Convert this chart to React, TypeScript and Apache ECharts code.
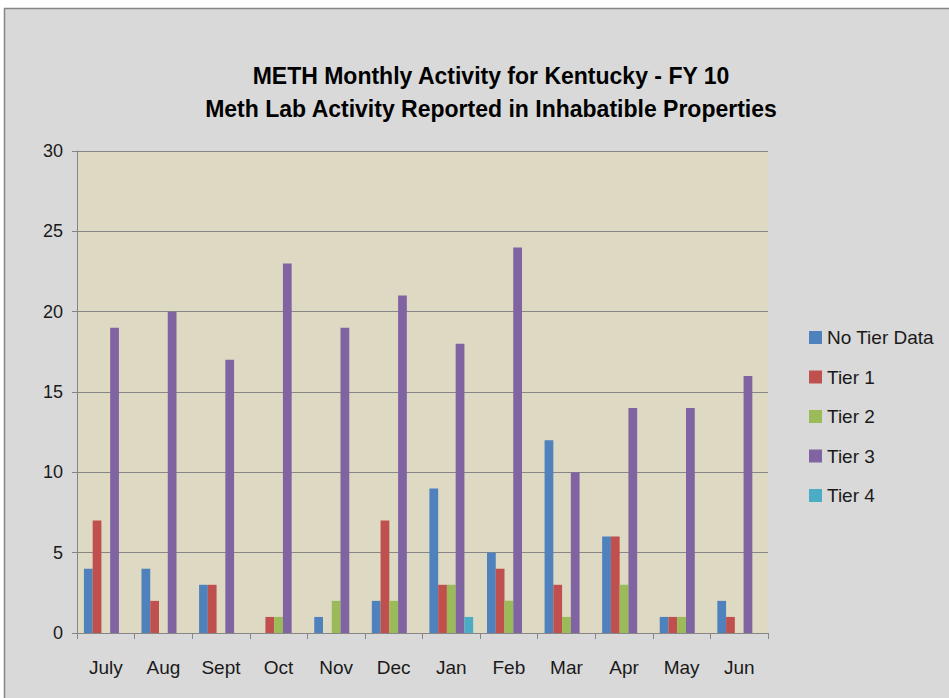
import React, { useEffect, useRef } from "react";
import * as echarts from "echarts";

const categories = ["July", "Aug", "Sept", "Oct", "Nov", "Dec", "Jan", "Feb", "Mar", "Apr", "May", "Jun"];
const noTierData = [4, 4, 3, 0, 1, 2, 9, 5, 12, 6, 1, 2];
const tier1 = [7, 2, 3, 1, 0, 7, 3, 4, 3, 6, 1, 1];
const tier2 = [0, 0, 0, 1, 2, 2, 3, 2, 1, 3, 1, 0];
const tier3 = [19, 20, 17, 23, 19, 21, 18, 24, 10, 14, 14, 16];
const tier4 = [0, 0, 0, 0, 0, 0, 1, 0, 0, 0, 0, 0];
const seriesNames = ["No Tier Data", "Tier 1", "Tier 2", "Tier 3", "Tier 4"];
const colors = ["#4F81BD", "#C0504D", "#9BBB59", "#8064A2", "#4BACC6"];
const titleLines = ["METH Monthly Activity for Kentucky - FY 10", "Meth Lab Activity Reported in Inhabatible Properties"];

const FONT = "'Liberation Sans', Arial, sans-serif";

export default function App() {
  const ref = useRef<HTMLDivElement>(null);
  useEffect(() => {
    if (!ref.current) return;
    const chart = echarts.init(ref.current, null, { renderer: "svg" });
    const values = [noTierData, tier1, tier2, tier3, tier4];
    chart.setOption({
      animation: false,
      backgroundColor: "#ffffff",
      color: colors,
      textStyle: { fontFamily: FONT },
      graphic: [
        {
          type: "rect",
          shape: { x: 4.5, y: 8.5, width: 960, height: 720 },
          style: { fill: "#D9D9D9", stroke: "#868686", lineWidth: 1.5 },
          z: -10,
          silent: true,
        },
      ],
      title: {
        text: titleLines.join("\n"),
        left: 486,
        top: 54,
        textAlign: "center",
        textStyle: {
          fontFamily: FONT,
          fontSize: 23,
          fontWeight: "bold",
          color: "#000000",
          lineHeight: 33,
          align: "center",
        },
      },
      legend: {
        orient: "vertical",
        left: 804,
        top: 323,
        icon: "rect",
        itemWidth: 13,
        itemHeight: 13,
        itemGap: 20.5,
        data: seriesNames,
        textStyle: { fontFamily: FONT, fontSize: 19, color: "#1a1a1a" },
      },
      grid: {
        left: 77,
        top: 151,
        width: 691,
        height: 482,
        show: true,
        backgroundColor: "#DDD9C3",
        borderWidth: 0,
      },
      xAxis: {
        type: "category",
        data: categories,
        axisLine: { lineStyle: { color: "#868686", width: 1 } },
        axisTick: { show: true, length: 6, lineStyle: { color: "#868686" } },
        axisLabel: { fontFamily: FONT, fontSize: 19, color: "#1a1a1a", margin: 25 },
      },
      yAxis: {
        type: "value",
        min: 0,
        max: 30,
        interval: 5,
        axisLine: { show: true, lineStyle: { color: "#868686", width: 1 } },
        axisTick: { show: true, length: 5, lineStyle: { color: "#868686" } },
        axisLabel: { fontFamily: FONT, fontSize: 18, color: "#1a1a1a", margin: 14 },
        splitLine: { lineStyle: { color: "#868686", width: 1 } },
      },
      series: seriesNames.map((name, i) => ({
        name,
        type: "bar",
        data: values[i],
        barGap: "0%",
        barCategoryGap: "24%",
        itemStyle: { color: colors[i] },
      })),
    });
    return () => chart.dispose();
  }, []);
  return <div ref={ref} style={{ position: "fixed", left: 0, top: 0, width: 949, height: 698 }} />;
}
